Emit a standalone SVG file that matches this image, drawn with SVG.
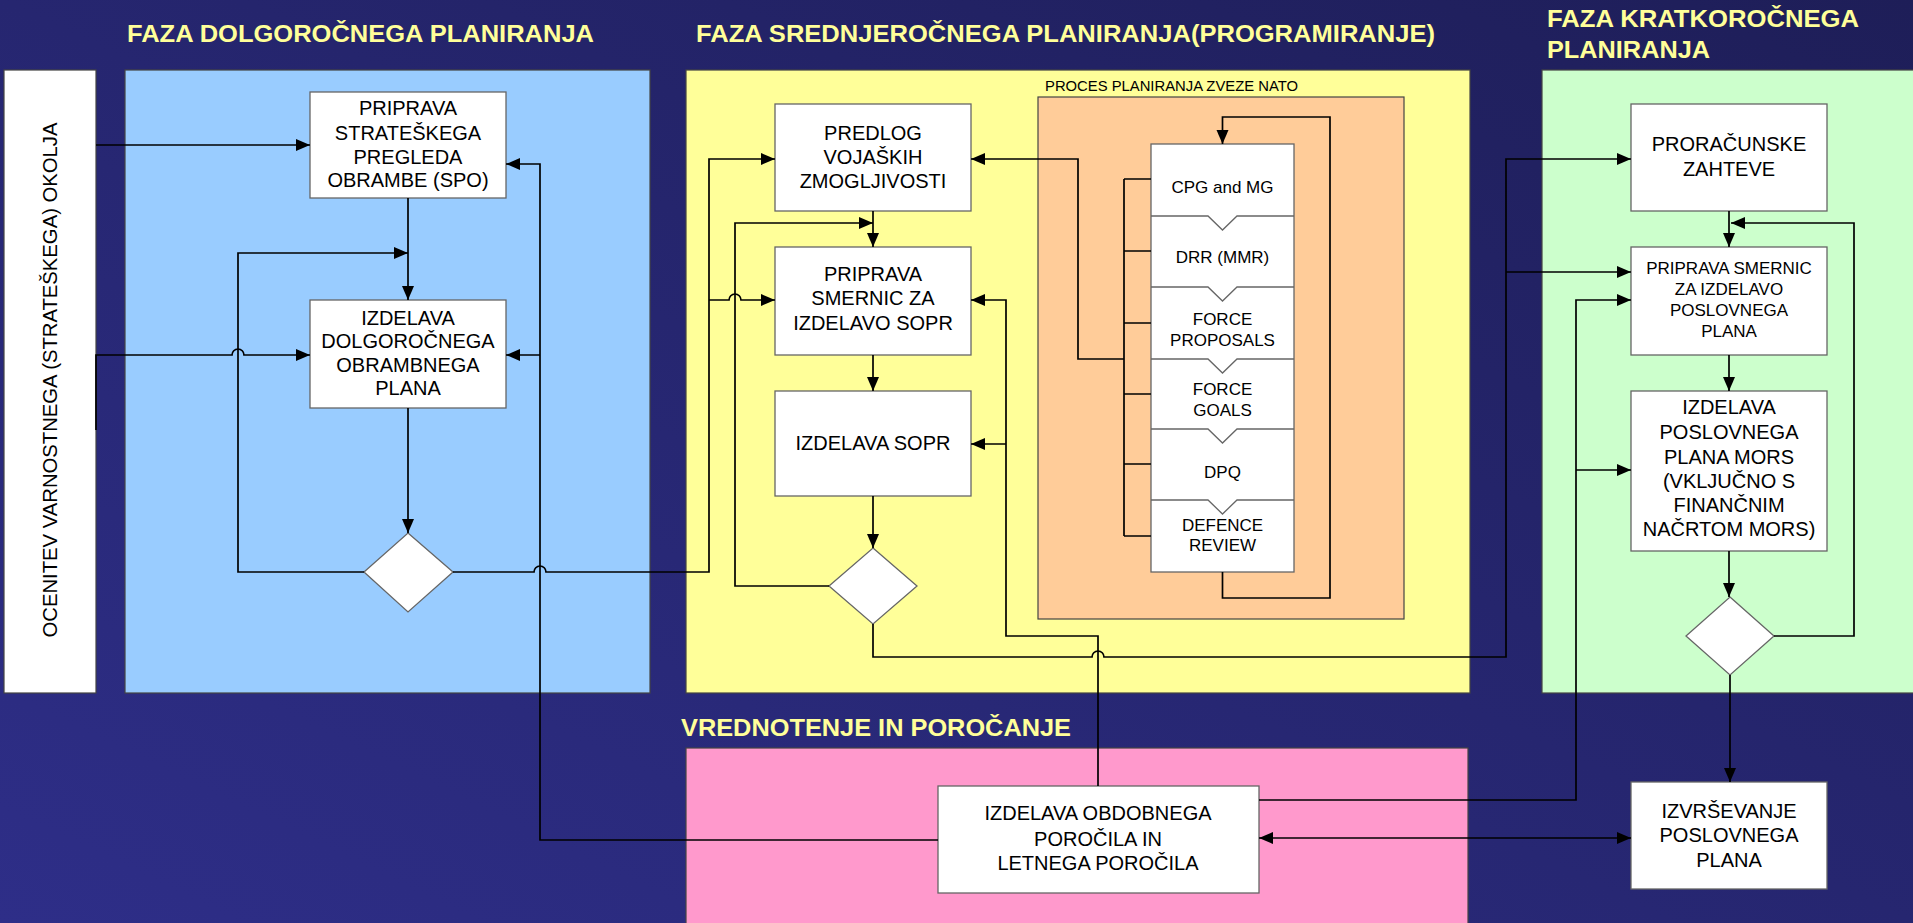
<svg xmlns="http://www.w3.org/2000/svg" width="1913" height="923" viewBox="0 0 1913 923">
<defs>
<linearGradient id="bg" x1="0" y1="1" x2="1" y2="0">
<stop offset="0" stop-color="#2e2e88"/>
<stop offset="1" stop-color="#1e1e58"/>
</linearGradient>
<marker id="ah" markerUnits="userSpaceOnUse" markerWidth="15" markerHeight="13" refX="14" refY="6" orient="auto-start-reverse">
<path d="M0,0 L14,6 L0,12 z" fill="#000"/>
</marker>
<style>
.panel{stroke:#444;stroke-width:1.2}
.box{fill:#fff;stroke:#666;stroke-width:1.3}
.t{font-family:"Liberation Sans",Arial,sans-serif;font-size:20px;fill:#000;text-anchor:middle}
.t17{font-size:17px}
.ttl{font-family:"Liberation Sans",Arial,sans-serif;font-size:23px;font-weight:bold;fill:#FFFF99}
.c{fill:none;stroke:#000;stroke-width:1.7}
.a{marker-end:url(#ah)}
</style>
</defs>
<rect x="0" y="0" width="1913" height="923" fill="url(#bg)"/>

<g id="panels">
<rect class="panel" x="4" y="70" width="92" height="623" fill="#fff"/>
<rect class="panel" x="125" y="70" width="525" height="623" fill="#99CCFF"/>
<rect class="panel" x="686" y="70" width="784" height="623" fill="#FFFF99"/>
<rect class="panel" x="1038" y="97" width="366" height="522" fill="#FFCC99"/>
<rect class="panel" x="1542" y="70" width="380" height="623" fill="#CCFFCC"/>
<rect class="panel" x="686" y="748" width="782" height="185" fill="#FF99CC"/>
</g>

<g id="titles">
<text class="ttl" x="127" y="42" textLength="467" lengthAdjust="spacingAndGlyphs">FAZA DOLGOROČNEGA PLANIRANJA</text>
<text class="ttl" x="696" y="42" textLength="739" lengthAdjust="spacingAndGlyphs">FAZA SREDNJEROČNEGA PLANIRANJA(PROGRAMIRANJE)</text>
<text class="ttl" x="1547" y="27" font-size="22" textLength="312" lengthAdjust="spacingAndGlyphs">FAZA KRATKOROČNEGA</text>
<text class="ttl" x="1547" y="58" font-size="22" textLength="163" lengthAdjust="spacingAndGlyphs">PLANIRANJA</text>
<text class="ttl" x="681" y="736" textLength="390" lengthAdjust="spacingAndGlyphs">VREDNOTENJE IN POROČANJE</text>
<text class="t" x="1045" y="91" style="font-size:14.5px;text-anchor:start" textLength="253" lengthAdjust="spacingAndGlyphs">PROCES PLANIRANJA ZVEZE NATO</text>
<text class="t" transform="translate(57,380) rotate(-90)" textLength="515" lengthAdjust="spacingAndGlyphs">OCENITEV VARNOSTNEGA (STRATEŠKEGA) OKOLJA</text>
</g>

<g id="n-spo">
<rect class="box" x="310" y="92" width="196" height="106"/>
<text class="t" x="408" y="115">PRIPRAVA</text>
<text class="t" x="408" y="140">STRATEŠKEGA</text>
<text class="t" x="408" y="164">PREGLEDA</text>
<text class="t" x="408" y="187">OBRAMBE (SPO)</text>
</g>
<g id="n-dolg">
<rect class="box" x="310" y="300" width="196" height="108"/>
<text class="t" x="408" y="325">IZDELAVA</text>
<text class="t" x="408" y="348">DOLGOROČNEGA</text>
<text class="t" x="408" y="372">OBRAMBNEGA</text>
<text class="t" x="408" y="395">PLANA</text>
</g>
<g id="n-d1"><polygon class="box" points="408,533 453,572 408,612 364,572"/></g>

<g id="n-predlog">
<rect class="box" x="775" y="104" width="196" height="107"/>
<text class="t" x="873" y="140">PREDLOG</text>
<text class="t" x="873" y="164">VOJAŠKIH</text>
<text class="t" x="873" y="188">ZMOGLJIVOSTI</text>
</g>
<g id="n-smernic">
<rect class="box" x="775" y="247" width="196" height="108"/>
<text class="t" x="873" y="281">PRIPRAVA</text>
<text class="t" x="873" y="305">SMERNIC ZA</text>
<text class="t" x="873" y="330">IZDELAVO SOPR</text>
</g>
<g id="n-sopr">
<rect class="box" x="775" y="391" width="196" height="105"/>
<text class="t" x="873" y="450">IZDELAVA SOPR</text>
</g>
<g id="n-d2"><polygon class="box" points="873,548 917,586 873,624 829,586"/></g>

<g id="n-nato">
<rect class="box" x="1151" y="144" width="143" height="428"/>
<path d="M1151,216 H1208 L1222.5,230 L1237,216 H1294 M1151,287 H1208 L1222.5,301 L1237,287 H1294 M1151,359 H1208 L1222.5,373 L1237,359 H1294 M1151,429 H1208 L1222.5,443 L1237,429 H1294 M1151,500 H1208 L1222.5,514 L1237,500 H1294" fill="none" stroke="#666" stroke-width="1.3"/>
<text class="t t17" x="1222.5" y="193">CPG and MG</text>
<text class="t t17" x="1222.5" y="263">DRR (MMR)</text>
<text class="t t17" x="1222.5" y="325">FORCE</text>
<text class="t t17" x="1222.5" y="346">PROPOSALS</text>
<text class="t t17" x="1222.5" y="395">FORCE</text>
<text class="t t17" x="1222.5" y="416">GOALS</text>
<text class="t t17" x="1222.5" y="478">DPQ</text>
<text class="t t17" x="1222.5" y="531">DEFENCE</text>
<text class="t t17" x="1222.5" y="551">REVIEW</text>
</g>

<g id="n-proracun">
<rect class="box" x="1631" y="104" width="196" height="107"/>
<text class="t" x="1729" y="151">PRORAČUNSKE</text>
<text class="t" x="1729" y="176">ZAHTEVE</text>
</g>
<g id="n-smernic2">
<rect class="box" x="1631" y="247" width="196" height="108"/>
<text class="t t17" x="1729" y="274">PRIPRAVA SMERNIC</text>
<text class="t t17" x="1729" y="295">ZA IZDELAVO</text>
<text class="t t17" x="1729" y="316">POSLOVNEGA</text>
<text class="t t17" x="1729" y="337">PLANA</text>
</g>
<g id="n-posl">
<rect class="box" x="1631" y="391" width="196" height="160"/>
<text class="t" x="1729" y="414">IZDELAVA</text>
<text class="t" x="1729" y="439">POSLOVNEGA</text>
<text class="t" x="1729" y="464">PLANA MORS</text>
<text class="t" x="1729" y="488">(VKLJUČNO S</text>
<text class="t" x="1729" y="512">FINANČNIM</text>
<text class="t" x="1729" y="536">NAČRTOM MORS)</text>
</g>
<g id="n-d3"><polygon class="box" points="1730,597 1774,636 1730,675 1686,636"/></g>
<g id="n-izvr">
<rect class="box" x="1631" y="782" width="196" height="107"/>
<text class="t" x="1729" y="818">IZVRŠEVANJE</text>
<text class="t" x="1729" y="842">POSLOVNEGA</text>
<text class="t" x="1729" y="867">PLANA</text>
</g>
<g id="n-porocilo">
<rect class="box" x="938" y="786" width="321" height="107"/>
<text class="t" x="1098" y="820">IZDELAVA OBDOBNEGA</text>
<text class="t" x="1098" y="846">POROČILA IN</text>
<text class="t" x="1098" y="870">LETNEGA POROČILA</text>
</g>

<g id="connectors">
<path class="c a" d="M96,145 H310"/>
<path class="c a" d="M96,430 V355 H232 A6,6 0 0 1 244,355 H310"/>
<path class="c a" d="M408,198 V300"/>
<path class="c a" d="M408,408 V533"/>
<path class="c a" d="M364,572 H238 V253 H408"/>
<path class="c a" d="M938,840 H540 V164 H506"/>
<path class="c a" d="M540,355 H506"/>
<path class="c a" d="M453,572 H534 A6,6 0 0 1 546,572 H709 V159 H775"/>
<path class="c a" d="M709,300 H729 A6,6 0 0 1 741,300 H775"/>
<path class="c a" d="M873,211 V247"/>
<path class="c a" d="M829,586 H735 V223 H873"/>
<path class="c a" d="M873,355 V391"/>
<path class="c a" d="M873,496 V548"/>
<path class="c a" d="M1098,786 V636 H1006 V300 H971"/>
<path class="c a" d="M1006,444 H971"/>
<path class="c a" d="M873,624 V657 H1092 A6,6 0 0 1 1104,657 H1506 V159 H1631"/>
<path class="c a" d="M1506,272 H1631"/>
<path class="c a" d="M1124,359 H1078 V159 H971"/>
<path class="c" d="M1124,179 V536 M1124,179 H1151 M1124,251 H1151 M1124,323 H1151 M1124,394 H1151 M1124,464 H1151 M1124,536 H1151"/>
<path class="c a" d="M1222.5,572 V598 H1330 V117 H1222.5 V144"/>
<path class="c a" d="M1259,800 H1576 V300 H1631"/>
<path class="c a" d="M1576,470 H1631"/>
<path class="c a" d="M1259,838 H1631" marker-start="url(#ah)"/>
<path class="c a" d="M1729,211 V247"/>
<path class="c a" d="M1774,636 H1854 V223 H1731"/>
<path class="c a" d="M1729,355 V391"/>
<path class="c a" d="M1729,551 V597"/>
<path class="c a" d="M1730,675 V782"/>
</g>
</svg>
